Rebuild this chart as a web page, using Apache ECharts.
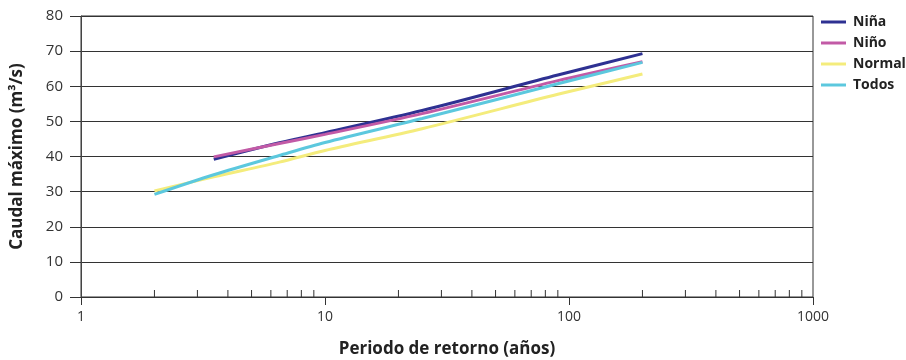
<!DOCTYPE html>
<html>
<head>
<meta charset="utf-8">
<script src="https://cdn.jsdelivr.net/npm/echarts@6/dist/echarts.min.js"></script>
<style>
  html, body { margin: 0; padding: 0; background: #fff; }
  #chart { width: 906px; height: 360px; }
</style>
</head>
<body>
<div id="chart"></div>
<script>
// Return period (years) / peak flow (m3/s) pairs
const seriesNames = ['Niña', 'Niño', 'Normal', 'Todos'];
const ninaData   = [[3.5, 39.2], [6.5, 43.9], [10, 46.8], [25, 53.1], [90, 63.2], [200, 69.3]];
const ninoData   = [[3.5, 39.9], [6.5, 43.7], [10, 46.3], [25, 52.2], [90, 61.6], [200, 67.0]];
const normalData = [[2, 30.2], [3.5, 34.2], [6.5, 38.4], [10, 41.7], [25, 47.9], [90, 57.7], [200, 63.5]];
const todosData  = [[2, 29.2], [3.5, 34.8], [6.5, 40.3], [10, 44.0], [25, 50.8], [90, 60.7], [200, 66.8]];
const minorTickValues = [2, 3, 4, 5, 6, 7, 8, 9, 20, 30, 40, 50, 60, 70, 80, 90, 200, 300, 400, 500, 600, 700, 800, 900];
const xAxisTitle = 'Periodo de retorno (años)';
const yAxisTitle = 'Caudal máximo (m³/s)';

const colors = ['#2e3192', '#c25aa6', '#f4ec7c', '#5cc8de'];
const FONT = '"Open Sans", sans-serif';

const chart = echarts.init(document.getElementById('chart'), null, { renderer: 'canvas' });

function lineSeries(name, data, color) {
  return {
    name: name, type: 'line', data: data, smooth: 0.3, symbol: 'none',
    lineStyle: { color: color, width: 3 }, itemStyle: { color: color }, z: 3
  };
}

chart.setOption({
  animation: false,
  backgroundColor: '#fff',
  grid: { left: 81, right: 93, top: 16, bottom: 63, show: true, borderColor: '#333', borderWidth: 1,
          containLabel: false, outerBoundsMode: 'none' },
  legend: {
    data: seriesNames, orient: 'vertical', left: 816, top: 10,
    icon: 'rect', itemWidth: 25, itemHeight: 3, itemGap: 7,
    textStyle: { fontFamily: FONT, fontWeight: 'bold', fontSize: 14, color: '#222', padding: [0, 0, 0, 2] }
  },
  xAxis: {
    type: 'log', logBase: 10, min: 1, max: 1000,
    name: xAxisTitle, nameLocation: 'middle', nameGap: 44,
    nameTextStyle: { fontFamily: FONT, fontWeight: 'bold', fontSize: 17, color: '#222' },
    axisLine: { lineStyle: { color: '#333', width: 1 } },
    axisTick: { show: true, length: 8, lineStyle: { color: '#333' } },
    axisLabel: { fontFamily: FONT, fontSize: 14, color: '#333', margin: 13, formatter: v => String(v) },
    splitLine: { show: false }
  },
  yAxis: {
    type: 'value', min: 0, max: 80, interval: 10,
    name: yAxisTitle, nameLocation: 'middle', nameGap: 55,
    nameTextStyle: { fontFamily: FONT, fontWeight: 'bold', fontSize: 17, color: '#222' },
    axisLine: { show: true, lineStyle: { color: '#444', width: 1 } },
    axisTick: { show: true, length: 11, lineStyle: { color: '#333' } },
    axisLabel: { fontFamily: FONT, fontSize: 15, color: '#333', margin: 18 },
    splitLine: { show: true, lineStyle: { color: '#333', width: 1 } }
  },
  series: [
    lineSeries(seriesNames[0], ninaData, colors[0]),
    lineSeries(seriesNames[1], ninoData, colors[1]),
    lineSeries(seriesNames[2], normalData, colors[2]),
    lineSeries(seriesNames[3], todosData, colors[3]),
    {
      name: 'minorTicks', type: 'custom', silent: true, z: 2,
      data: minorTickValues.map(v => [v, 0]),
      renderItem: function (params, api) {
        const p = api.coord([api.value(0), 0]);
        return {
          type: 'line',
          shape: { x1: p[0], y1: p[1], x2: p[0], y2: p[1] - 7 },
          style: { stroke: '#333', lineWidth: 1 }
        };
      }
    }
  ]
});
</script>
</body>
</html>
